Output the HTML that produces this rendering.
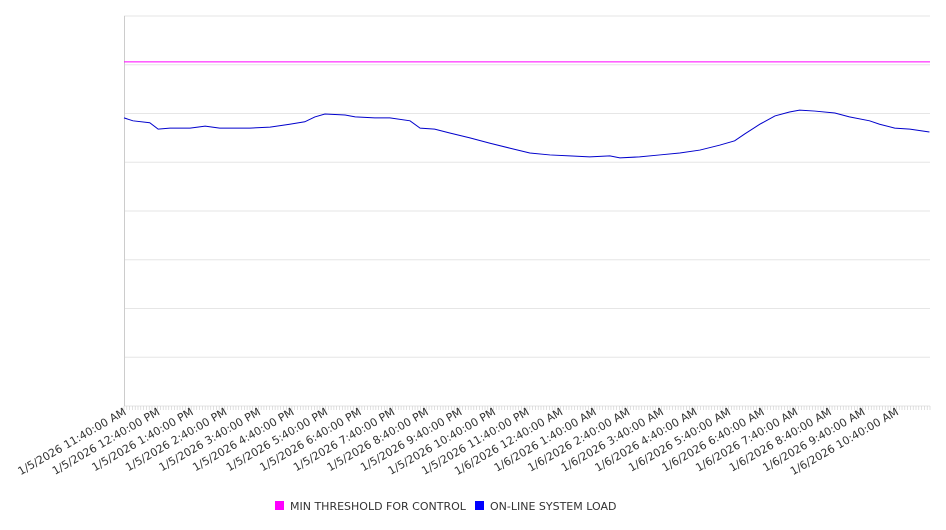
<!DOCTYPE html>
<html><head><meta charset="utf-8"><style>
body{margin:0;background:#fff;font-family:"DejaVu Sans","Liberation Sans",sans-serif;}
svg text{font-family:"DejaVu Sans","Liberation Sans",sans-serif;fill:#333;}
</style></head><body>
<svg id="chart" width="946" height="526" viewBox="0 0 946 526">
<g id="grid"></g>
<g id="xaxis"></g>
<g id="series"></g>
<g>
<rect x="275" y="501" width="9" height="9" fill="#ff00ff"/>
<text x="290" y="510" font-size="11">MIN THRESHOLD FOR CONTROL</text>
<rect x="475" y="501" width="9" height="9" fill="#0000ff"/>
<text x="490" y="510" font-size="11">ON-LINE SYSTEM LOAD</text>
</g>
</svg>
<script>
const minutes=[0,16,46,61,82,118,145,171,225,261,296,323,341,359,395,413,448,475,511,529,555,582,618,654,689,725,761,796,832,868,886,921,957,993,1029,1064,1091,1109,1136,1163,1189,1207,1234,1270,1296,1332,1350,1377,1404,1439];
const loadValues=[591,585,581,568,570,570,574,570,570,572,578,583,593,599,597,593,591,591,585,570,568,560,550,539,529,519,515,513,511,513,509,511,515,519,525,535,544,558,578,595,603,607,605,601,593,585,578,570,568,562];
const thresholdValue=706;
const xLabels=["1/5/2026 11:40:00 AM","1/5/2026 12:40:00 PM","1/5/2026 1:40:00 PM","1/5/2026 2:40:00 PM","1/5/2026 3:40:00 PM","1/5/2026 4:40:00 PM","1/5/2026 5:40:00 PM","1/5/2026 6:40:00 PM","1/5/2026 7:40:00 PM","1/5/2026 8:40:00 PM","1/5/2026 9:40:00 PM","1/5/2026 10:40:00 PM","1/5/2026 11:40:00 PM","1/6/2026 12:40:00 AM","1/6/2026 1:40:00 AM","1/6/2026 2:40:00 AM","1/6/2026 3:40:00 AM","1/6/2026 4:40:00 AM","1/6/2026 5:40:00 AM","1/6/2026 6:40:00 AM","1/6/2026 7:40:00 AM","1/6/2026 8:40:00 AM","1/6/2026 9:40:00 AM","1/6/2026 10:40:00 AM"];
const yTicks=[0,100,200,300,400,500,600,700,800];
const L=124,R=930,T=16,B=406,XMAX=1440,YMAX=800;
const xs=m=>L+(R-L)*m/XMAX, ys=v=>B-(B-T)*v/YMAX;
const NS="http://www.w3.org/2000/svg";
const mk=(t,a,p)=>{const e=document.createElementNS(NS,t);for(const k in a)e.setAttribute(k,a[k]);p.appendChild(e);return e;};
const grid=document.getElementById('grid'),xa=document.getElementById('xaxis'),se=document.getElementById('series');
yTicks.forEach(v=>{const l=mk('line',{x1:L,x2:R,y1:ys(v),y2:ys(v),stroke:'#e6e6e6','stroke-width':1},grid);

});
const ax=mk('line',{x1:L+0.5,x2:L+0.5,y1:T,y2:B,stroke:'#ccc'},grid);


for(let m=0;m<=XMAX;m+=5){const t=mk('line',{x1:xs(m),x2:xs(m),y1:B,y2:B+4,stroke:'#ccc','stroke-width':0.6},xa);

}
xLabels.forEach((s,i)=>{const x=xs(i*60)+3,y=B+8;const t=mk('text',{x:x,y:y,'text-anchor':'end','font-size':11,transform:`rotate(-30 ${x} ${y})`},xa);t.textContent=s;

});
const th=mk('line',{x1:L,x2:R,y1:ys(thresholdValue),y2:ys(thresholdValue),stroke:'#ff00ff','stroke-width':1},se);


const pl=mk('polyline',{points:minutes.map((m,i)=>xs(m)+','+ys(loadValues[i])).join(' '),fill:'none',stroke:'#0000cc','stroke-width':1},se);


</script>
</body></html>
